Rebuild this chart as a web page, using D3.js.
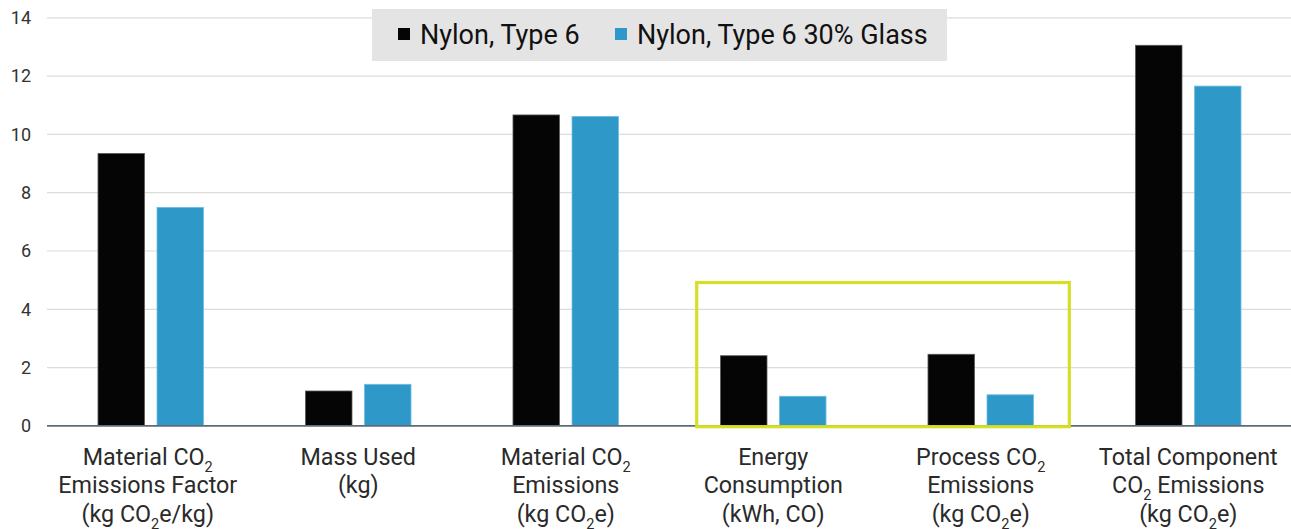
<!DOCTYPE html>
<html>
<head>
<meta charset="utf-8">
<script src="https://cdn.jsdelivr.net/npm/d3@7"></script>
<style>
  html, body { margin: 0; padding: 0; background: #fff; }
  svg { display: block; font-family: Roboto, "Noto Sans", sans-serif; }
</style>
</head>
<body>
<svg id="chart" width="1291" height="529"></svg>
<script>
// Category labels, one string per line; "{2}" marks a subscript digit
const categories = [
  ["Material CO{2}", "Emissions Factor", "(kg CO{2}e/kg)"],
  ["Mass Used", "(kg)"],
  ["Material CO{2}", "Emissions", "(kg CO{2}e)"],
  ["Energy", "Consumption", "(kWh, CO)"],
  ["Process CO{2}", "Emissions", "(kg CO{2}e)"],
  ["Total Component", "CO{2} Emissions", "(kg CO{2}e)"]
];
const seriesNames = ["Nylon, Type 6", "Nylon, Type 6 30% Glass"];
const nylon6      = [9.33, 1.18, 10.65, 2.39, 2.44, 13.04];
const nylon6Glass = [7.48, 1.41, 10.60, 1.00, 1.05, 11.64];
const yTicks = [0, 2, 4, 6, 8, 10, 12, 14];
const colors = ["#050505", "#2e99c8"];
const strokes = ["#5a5a5a", "#6cbfe3"];
// highlighted categories (Energy Consumption, Process CO2 Emissions)
const highlight = { from: 3, to: 4, top: 4.9 };

const svg = d3.select("#chart");

const keys = categories.map((c, i) => "c" + i);
const x = d3.scaleBand().domain(keys).range([47, 1292]).paddingInner(0).paddingOuter(0);
const xs = d3.scaleBand().domain(seriesNames).range([0, x.bandwidth()])
  .paddingInner(0.212).paddingOuter(0.864);
const y = d3.scaleLinear().domain([0, 14]).range([425.4, 17.3]);

// gridlines
svg.append("g")
  .selectAll("line")
  .data(yTicks.filter(d => d !== 0))
  .join("line")
  .attr("x1", 47).attr("x2", 1291)
  .attr("y1", d => y(d) + 0.5).attr("y2", d => y(d) + 0.5)
  .attr("stroke", "#dcdcdc").attr("stroke-width", 1.2);

// y axis tick labels
const yAxis = d3.axisLeft(y).tickValues(yTicks).tickSize(0).tickPadding(0);
const gy = svg.append("g").attr("transform", "translate(31,0)").call(yAxis);
gy.select(".domain").remove();
gy.selectAll("text")
  .attr("font-size", 18).attr("fill", "#333")
  .attr("font-family", "Roboto, sans-serif")
  .attr("dy", "0.35em");

// bars
const rows = keys.map((k, i) => ({ key: k, values: [nylon6[i], nylon6Glass[i]] }));
const groups = svg.append("g").selectAll("g")
  .data(rows).join("g")
  .attr("transform", d => `translate(${x(d.key)},0)`);
groups.selectAll("rect")
  .data(d => d.values.map((v, j) => ({ v, j })))
  .join("rect")
  .attr("x", d => xs(seriesNames[d.j]))
  .attr("width", xs.bandwidth())
  .attr("y", d => y(d.v))
  .attr("height", d => y(0) - y(d.v))
  .attr("fill", d => colors[d.j])
  .attr("stroke", d => strokes[d.j])
  .attr("stroke-width", 0.8);

// baseline
svg.append("line")
  .attr("x1", 47).attr("x2", 1291)
  .attr("y1", y(0) + 0.5).attr("y2", y(0) + 0.5)
  .attr("stroke", "#5c6b78").attr("stroke-width", 1.6);

// category labels with subscripts
const labelG = svg.append("g");
categories.forEach((lines, i) => {
  const cx = x(keys[i]) + x.bandwidth() / 2 - (i === 0 ? 3 : 0);
  const t = labelG.append("text")
    .attr("text-anchor", "middle")
    .attr("font-size", 23.3)
    .attr("fill", "#2a2a2a");
  lines.forEach((line, li) => {
    const parts = line.split(/(\{2\})/).filter(p => p !== "");
    parts.forEach((p, pi) => {
      const ts = t.append("tspan");
      if (pi === 0) ts.attr("x", cx).attr("y", 464.5 + li * 28.5);
      if (p === "{2}") {
        ts.text("2").attr("font-size", 14.5).attr("dy", 7);
      } else {
        ts.text(p);
        if (pi > 0 && parts[pi - 1] === "{2}") ts.attr("dy", -7);
      }
    });
  });
});

// highlight frame
const hx0 = x(keys[highlight.from]) + 27.2;
const hx1 = x(keys[highlight.to]) + x.bandwidth() - 15.2;
svg.append("rect")
  .attr("x", hx0).attr("y", y(highlight.top))
  .attr("width", hx1 - hx0).attr("height", y(0) + 1.3 - y(highlight.top))
  .attr("fill", "none").attr("stroke", "#d4df25").attr("stroke-width", 3.2);

// legend
const legend = svg.append("g");
legend.append("rect")
  .attr("x", 372).attr("y", 9).attr("width", 575).attr("height", 52)
  .attr("fill", "#e4e4e4");
const legendX = [398, 615];
seriesNames.forEach((name, j) => {
  legend.append("rect")
    .attr("x", legendX[j]).attr("y", 28).attr("width", 12).attr("height", 12)
    .attr("fill", colors[j]);
  legend.append("text")
    .attr("x", legendX[j] + 22).attr("y", 43.5)
    .attr("font-size", 27).attr("fill", "#111")
    .text(name);
});
</script>
</body>
</html>
